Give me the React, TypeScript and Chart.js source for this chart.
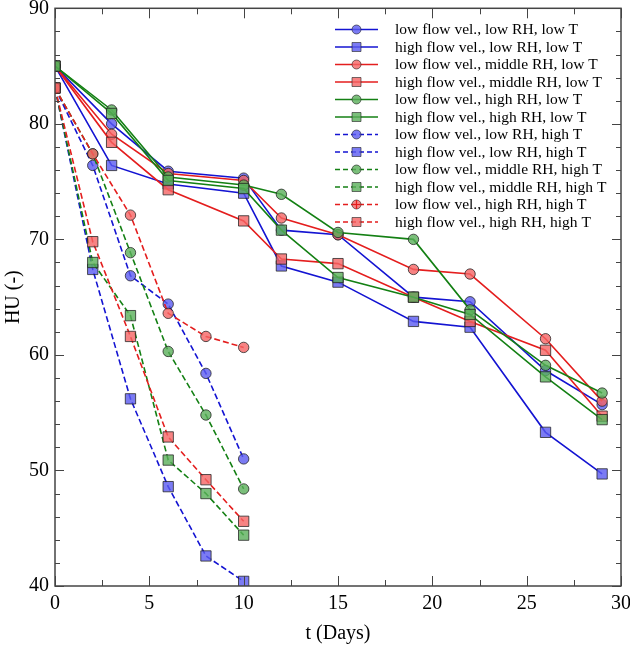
import React, { useEffect, useRef } from 'react';
import { Chart, registerables } from 'chart.js';
Chart.register(...registerables);

// ---- data ----
const solidDays = [0, 3, 6, 10, 12, 15, 19, 22, 26, 29];
const dashedDays = [0, 2, 4, 6, 8, 10];

const lowVelLowRHLowT = [85, 80.0, 75.9, 75.3, 70.8, 70.4, 65.0, 64.6, 58.65, 55.7];
const highVelLowRHLowT = [85, 76.4, 74.8, 74.0, 67.7, 66.3, 62.9, 62.4, 53.3, 49.7];
const lowVelMidRHLowT = [85, 79.1, 75.7, 75.1, 71.85, 70.4, 67.4, 67.0, 61.4, 56.0];
const highVelMidRHLowT = [85, 78.4, 74.3, 71.6, 68.3, 67.9, 65.0, 62.9, 60.4, 54.7];
const lowVelHighRHLowT = [85, 81.2, 75.4, 74.7, 73.9, 70.6, 70.0, 63.9, 59.1, 56.7];
const highVelHighRHLowT = [85, 80.9, 75.1, 74.4, 70.8, 66.7, 65.0, 63.5, 58.1, 54.4];

const lowVelLowRHHighT = [83.1, 76.4, 66.85, 64.4, 58.4, 51.0];
const highVelLowRHHighT = [83.1, 67.4, 56.2, 48.6, 42.6, 40.4];
const lowVelMidRHHighT = [83.1, 77.4, 68.85, 60.3, 54.8, 48.4];
const highVelMidRHHighT = [83.1, 68.0, 63.4, 50.9, 48.0, 44.4];
const lowVelHighRHHighT = [83.1, 77.4, 72.1, 63.6, 61.6, 60.65];
const highVelHighRHHighT = [83.1, 69.8, 61.6, 52.9, 49.2, 45.6];

const seriesLabels = [
  'low flow vel., low RH, low T',
  'high flow vel., low RH, low T',
  'low flow vel., middle RH, low T',
  'high flow vel., middle RH, low T',
  'low flow vel., high RH, low T',
  'high flow vel., high RH, low T',
  'low flow vel., low RH, high T',
  'high flow vel., low RH, high T',
  'low flow vel., middle RH, high T',
  'high flow vel., middle RH, high T',
  'low flow vel., high RH, high T',
  'high flow vel., high RH, high T',
];

const xTickLabels = [0, 5, 10, 15, 20, 25, 30];
const yTickLabels = [40, 50, 60, 70, 80, 90];

// ---- styles ----
const BLUE = 'rgb(20,20,210)';
const BLUE_FILL = 'rgba(90,90,240,0.8)';
const RED = 'rgb(228,30,30)';
const RED_FILL = 'rgba(245,100,100,0.8)';
const GREEN = 'rgb(20,128,20)';
const GREEN_FILL = 'rgba(90,175,90,0.8)';
const MARK_BORDER = 'rgba(30,30,30,0.75)';
const SERIF = '"Liberation Serif", "DejaVu Serif", serif';

type S = { label: string; days: number[]; vals: number[]; color: string; fill: string; shape: 'circle' | 'rect'; dashed: boolean; plus?: boolean };

const series: S[] = [
  { label: seriesLabels[0], days: solidDays, vals: lowVelLowRHLowT, color: BLUE, fill: BLUE_FILL, shape: 'circle', dashed: false },
  { label: seriesLabels[1], days: solidDays, vals: highVelLowRHLowT, color: BLUE, fill: BLUE_FILL, shape: 'rect', dashed: false },
  { label: seriesLabels[2], days: solidDays, vals: lowVelMidRHLowT, color: RED, fill: RED_FILL, shape: 'circle', dashed: false },
  { label: seriesLabels[3], days: solidDays, vals: highVelMidRHLowT, color: RED, fill: RED_FILL, shape: 'rect', dashed: false },
  { label: seriesLabels[4], days: solidDays, vals: lowVelHighRHLowT, color: GREEN, fill: GREEN_FILL, shape: 'circle', dashed: false },
  { label: seriesLabels[5], days: solidDays, vals: highVelHighRHLowT, color: GREEN, fill: GREEN_FILL, shape: 'rect', dashed: false },
  { label: seriesLabels[6], days: dashedDays, vals: lowVelLowRHHighT, color: BLUE, fill: BLUE_FILL, shape: 'circle', dashed: true },
  { label: seriesLabels[7], days: dashedDays, vals: highVelLowRHHighT, color: BLUE, fill: BLUE_FILL, shape: 'rect', dashed: true },
  { label: seriesLabels[8], days: dashedDays, vals: lowVelMidRHHighT, color: GREEN, fill: GREEN_FILL, shape: 'circle', dashed: true },
  { label: seriesLabels[9], days: dashedDays, vals: highVelMidRHHighT, color: GREEN, fill: GREEN_FILL, shape: 'rect', dashed: true },
  { label: seriesLabels[10], days: dashedDays, vals: lowVelHighRHHighT, color: RED, fill: RED_FILL, shape: 'circle', dashed: true, plus: true },
  { label: seriesLabels[11], days: dashedDays, vals: highVelHighRHHighT, color: RED, fill: RED_FILL, shape: 'rect', dashed: true },
];

const DASH = [6, 3];

const decorPlugin = {
  id: 'decor',
  afterDatasetsDraw(chart: any) {
    const ctx = chart.ctx as CanvasRenderingContext2D;
    const a = chart.chartArea;
    const xs = chart.scales.x;
    const ys = chart.scales.y;
    ctx.save();
    ctx.strokeStyle = '#444';
    ctx.lineWidth = 1;
    for (let v = 40; v <= 90; v += 2) {
      const y = Math.round(ys.getPixelForValue(v)) + 0.5;
      const len = v % 10 === 0 ? 9 : 5;
      ctx.beginPath();
      ctx.moveTo(a.left, y); ctx.lineTo(a.left + len, y);
      ctx.moveTo(a.right, y); ctx.lineTo(a.right - len, y);
      ctx.stroke();
    }
    for (let v = 0; v <= 30; v += 2.5) {
      const x = Math.round(xs.getPixelForValue(v)) + 0.5;
      const len = v % 5 === 0 ? 10 : 6;
      ctx.beginPath();
      ctx.moveTo(x, a.bottom); ctx.lineTo(x, a.bottom - len);
      ctx.moveTo(x, a.top); ctx.lineTo(x, a.top + len);
      ctx.stroke();
    }
    ctx.lineWidth = 1.5;
    ctx.strokeStyle = '#444';
    ctx.strokeRect(a.left, a.top, a.right - a.left, a.bottom - a.top);

    // legend
    const lx0 = 335, lx1 = 378, mx = 356.5, tx = 395, y0 = 29.5, dy = 17.5;
    ctx.font = '15.5px ' + SERIF;
    ctx.textBaseline = 'middle';
    ctx.textAlign = 'left';
    series.forEach((s, i) => {
      const y = y0 + dy * i;
      ctx.strokeStyle = s.color;
      ctx.lineWidth = 1.6;
      ctx.setLineDash(s.dashed ? [5, 3] : []);
      ctx.beginPath(); ctx.moveTo(lx0, y); ctx.lineTo(lx1, y); ctx.stroke();
      ctx.setLineDash([]);
      ctx.fillStyle = s.fill;
      ctx.strokeStyle = MARK_BORDER;
      ctx.lineWidth = 0.8;
      ctx.beginPath();
      if (s.shape === 'circle') ctx.arc(mx, y, 4.5, 0, Math.PI * 2);
      else ctx.rect(mx - 4.5, y - 4.5, 9, 9);
      ctx.fill(); ctx.stroke();
      if (s.plus) {
        ctx.strokeStyle = s.color;
        ctx.lineWidth = 1.2;
        ctx.beginPath();
        ctx.moveTo(mx - 4.5, y); ctx.lineTo(mx + 4.5, y);
        ctx.moveTo(mx, y - 4.5); ctx.lineTo(mx, y + 4.5);
        ctx.stroke();
      }
      ctx.fillStyle = '#000';
      ctx.fillText(s.label, tx, y + 0.5);
    });
    ctx.restore();
  },
};

export default function App() {
  const ref = useRef<HTMLCanvasElement | null>(null);
  useEffect(() => {
    document.body.style.margin = '0';
    const canvas = ref.current;
    if (!canvas) return;
    const datasets = series.map((s, i) => ({
      label: s.label,
      data: s.days.map((d, k) => ({ x: d, y: s.vals[k] })),
      borderColor: s.color,
      backgroundColor: s.fill,
      borderWidth: 1.6,
      borderDash: s.dashed ? DASH : [],
      pointStyle: s.shape,
      pointRadius: s.shape === 'circle' ? 5.2 : 7.3,
      pointBorderColor: MARK_BORDER,
      pointBackgroundColor: s.fill,
      pointBorderWidth: 1,
      tension: 0,
      fill: false,
      order: series.length - i,
    }));
    const chart = new Chart(canvas, {
      type: 'line',
      data: { datasets },
      options: {
        responsive: false,
        animation: false,
        events: [],
        layout: { padding: { top: 2.5, right: 9, left: 0, bottom: 0 } },
        plugins: { legend: { display: false }, tooltip: { enabled: false } },
        scales: {
          x: {
            type: 'linear',
            min: 0,
            max: 30,
            afterBuildTicks: (sc: any) => { sc.ticks = xTickLabels.map((v) => ({ value: v })); },
            afterFit: (sc: any) => { sc.height = 61; sc.paddingLeft = 0; sc.paddingRight = 0; },
            grid: { display: false, drawTicks: false },
            border: { display: false },
            ticks: { color: '#000', font: { family: SERIF, size: 20 }, padding: 6, maxRotation: 0, autoSkip: false },
            title: { display: true, text: 't (Days)', color: '#000', font: { family: SERIF, size: 20 }, padding: { top: 2, bottom: 1 } },
          },
          y: {
            type: 'linear',
            min: 40,
            max: 90,
            afterBuildTicks: (sc: any) => { sc.ticks = yTickLabels.map((v) => ({ value: v })); },
            afterFit: (sc: any) => { sc.width = 55; sc.paddingTop = 0; sc.paddingBottom = 0; },
            grid: { display: false, drawTicks: false },
            border: { display: false },
            ticks: { color: '#000', font: { family: SERIF, size: 20 }, padding: 6, autoSkip: false },
            title: { display: true, text: 'HU (-)', color: '#000', font: { family: SERIF, size: 20 }, padding: { top: 2, bottom: 2 } },
          },
        },
      },
      plugins: [decorPlugin],
    } as any);
    return () => chart.destroy();
  }, []);
  return (
    <div style={{ width: 630, height: 647 }}>
      <canvas ref={ref} width={630} height={647} style={{ display: 'block' }} />
    </div>
  );
}
